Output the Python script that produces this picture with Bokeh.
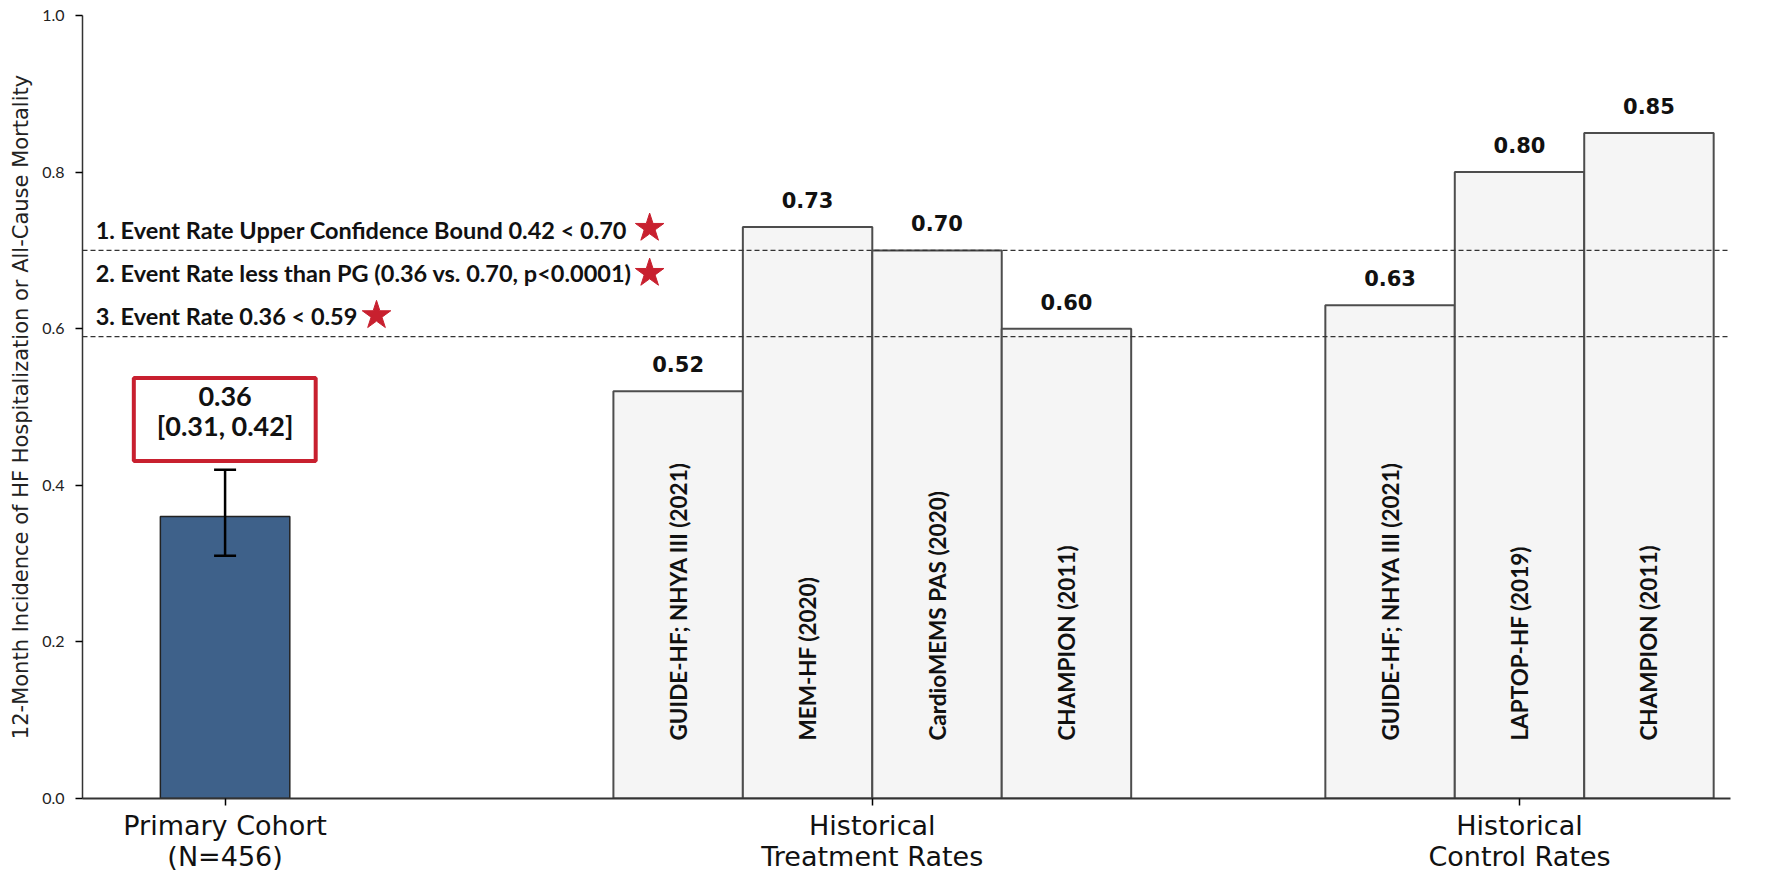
import math
from bokeh.plotting import figure
from bokeh.models import (ColumnDataSource, Span, LabelSet, FixedTicker,
                          PrintfTickFormatter, Range1d, Whisker, TeeHead)
from bokeh.core.properties import value
from bokeh.embed import file_html
from bokeh.resources import INLINE

# ---------------- data ----------------
group_names = ["Primary Cohort\n(N=456)", "Historical\nTreatment Rates", "Historical\nControl Rates"]
primary_rate = [0.36]
primary_ci_low = [0.31]
primary_ci_high = [0.42]
treatment_studies = ["GUIDE-HF; NHYA III (2021)", "MEM-HF (2020)", "CardioMEMS PAS (2020)", "CHAMPION (2011)"]
treatment_rates = [0.52, 0.73, 0.70, 0.60]
control_studies = ["GUIDE-HF; NHYA III (2021)", "LAPTOP-HF (2019)", "CHAMPION (2011)"]
control_rates = [0.63, 0.80, 0.85]
threshold_lines = [0.70, 0.59]
criteria_texts = ["1. Event Rate Upper Confidence Bound 0.42 < 0.70",
                  "2. Event Rate less than PG (0.36 vs. 0.70, p<0.0001)",
                  "3. Event Rate 0.36 < 0.59"]
criteria_ref = [0.70, 0.70, 0.59]
yticks = [0.0, 0.2, 0.4, 0.6, 0.8, 1.0]
y_label = "12-Month Incidence of HF Hospitalization or All-Cause Mortality"

# ---------------- layout constants ----------------
BAR_W = 0.2
group_x = [0, 1, 2]
RED = "#C8202F"
LATO = "Lato"
DEJAVU = "DejaVu Sans"

p = figure(width=1764, height=874, output_backend="svg", toolbar_location=None,
           x_range=Range1d(-0.2203, 2.326), y_range=Range1d(0, 1.0),
           min_border_left=82, min_border_right=34, min_border_top=15, min_border_bottom=76)
p.outline_line_color = None
p.xgrid.visible = False
p.ygrid.visible = False
p.background_fill_color = "white"
p.border_fill_color = "white"

# primary bar
src_p = ColumnDataSource(dict(x=[group_x[0]], top=primary_rate, lo=primary_ci_low, hi=primary_ci_high))
p.vbar(x="x", top="top", bottom=0, width=BAR_W, source=src_p,
       fill_color="#3E618A", line_color="#222222", line_width=1.5)
p.add_layout(Whisker(base="x", upper="hi", lower="lo", source=src_p, level="annotation",
                     line_color="black", line_width=2.5,
                     upper_head=TeeHead(size=22, line_width=2.5, line_color="black"),
                     lower_head=TeeHead(size=22, line_width=2.5, line_color="black")))

# historical bars
hx = [group_x[1] + (i - (len(treatment_rates) - 1) / 2) * BAR_W for i in range(len(treatment_rates))]
cx = [group_x[2] + (i - (len(control_rates) - 1) / 2) * BAR_W for i in range(len(control_rates))]
src_h = ColumnDataSource(dict(x=hx + cx, top=treatment_rates + control_rates,
                              name=treatment_studies + control_studies,
                              lab=["%.2f" % v for v in treatment_rates + control_rates],
                              ly=[0.074] * (len(hx) + len(cx))))
p.vbar(x="x", top="top", bottom=0, width=BAR_W, source=src_h,
       fill_color="#F5F5F5", line_color="#4D4D4D", line_width=2)

# threshold lines
for t in threshold_lines:
    p.add_layout(Span(location=t, dimension="width", line_color="#333333",
                      line_width=1.3, line_dash="5 3"))

# value labels
p.add_layout(LabelSet(x="x", y="top", text="lab", source=src_h, y_offset=19,
                      text_align="center", text_baseline="alphabetic",
                      text_font=value(DEJAVU), text_font_style="bold",
                      text_font_size="21px", text_color="#111111"))
# study labels (vertical)
p.add_layout(LabelSet(x="x", y="ly", text="name", source=src_h, angle=math.pi / 2,
                      text_align="left", text_baseline="middle",
                      text_font=value(LATO), text_font_style="bold",
                      text_font_size="22.5px", text_color="#111111"))

# red box with primary result
ci_hi = primary_ci_high[0]
p.quad(left=-0.141, right=0.140, bottom=ci_hi + 0.011, top=ci_hi + 0.117,
       fill_color="white", line_color=RED, line_width=4)
box_lines = ["%.2f" % primary_rate[0], "[%.2f, %.2f]" % (primary_ci_low[0], primary_ci_high[0])]
src_box = ColumnDataSource(dict(x=[group_x[0]] * 2, y=[ci_hi + 0.0815, ci_hi + 0.0432], t=box_lines))
p.add_layout(LabelSet(x="x", y="y", text="t", source=src_box, text_align="center",
                      text_baseline="alphabetic", text_font=value(LATO),
                      text_font_style="bold", text_font_size="27px", text_color="#111111"))

# criteria annotations
src_c = ColumnDataSource(dict(x=[-0.2] * 3, y=criteria_ref, dy=[11, -32, 12], t=criteria_texts))
p.add_layout(LabelSet(x="x", y="y", y_offset="dy", text="t", source=src_c,
                      text_align="left", text_baseline="alphabetic",
                      text_font=value(LATO), text_font_style="bold",
                      text_font_size="23.5px", text_color="#111111"))
star_x = [0.656, 0.656, 0.234]
star_y = [criteria_ref[0] + 0.0285, criteria_ref[1] - 0.029, criteria_ref[2] + 0.027]
p.scatter(x=star_x, y=star_y, marker="star", size=30, fill_color=RED, line_color=RED)

# axes
p.yaxis.ticker = FixedTicker(ticks=yticks)
p.yaxis.formatter = PrintfTickFormatter(format="%.1f")
p.yaxis.minor_tick_line_color = None
p.yaxis.major_tick_out = 7
p.yaxis.major_tick_in = 0
p.yaxis.major_label_standoff = 11
p.yaxis.major_label_text_font = LATO
p.yaxis.major_label_text_font_size = "16px"
p.yaxis.major_label_text_color = "#222222"
p.yaxis.axis_label = y_label
p.yaxis.axis_label_text_font = DEJAVU
p.yaxis.axis_label_text_font_style = "normal"
p.yaxis.axis_label_text_font_size = "21px"
p.yaxis.axis_label_text_color = "#222222"
p.yaxis.axis_label_standoff = 6
p.yaxis.axis_line_color = "#333333"
p.yaxis.axis_line_width = 1.5
p.yaxis.major_tick_line_width = 1.5

p.xaxis.ticker = FixedTicker(ticks=group_x)
p.xaxis.major_label_overrides = {g: name for g, name in zip(group_x, group_names)}
p.xaxis.major_label_text_font = DEJAVU
p.xaxis.major_label_text_font_size = "27px"
p.xaxis.major_label_text_color = "#111111"
p.xaxis.major_label_text_line_height = 1.0
p.xaxis.major_label_standoff = 4
p.xaxis.minor_tick_line_color = None
p.xaxis.major_tick_out = 7
p.xaxis.major_tick_in = 0
p.xaxis.axis_line_color = "#333333"
p.xaxis.axis_line_width = 2
p.xaxis.major_tick_line_width = 1.5

open("out.html", "w").write(file_html(p, INLINE))
